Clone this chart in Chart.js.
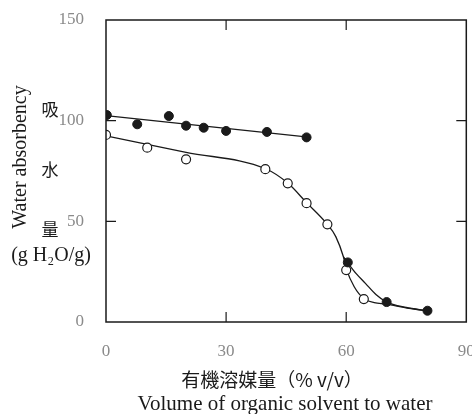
<!DOCTYPE html>
<html>
<head>
<meta charset="utf-8">
<script src="https://cdn.jsdelivr.net/npm/chart.js@4.4.1/dist/chart.umd.min.js"></script>
<style>
  body { margin: 0; background: #fff; }
  #wrap { width: 472px; height: 414px; }
</style>
</head>
<body>
<div id="wrap"><canvas id="absorbChart" width="472" height="414"></canvas></div>
<script>
// measured points
const filledX = [0.2, 7.8, 15.7, 20.0, 24.4, 30.0, 40.2, 50.1, 60.4, 70.1, 80.3];
const filledY = [102.8, 98.2, 102.3, 97.5, 96.5, 94.9, 94.4, 91.7, 29.6, 9.9, 5.6];
const openX = [0, 10.3, 20.0, 39.8, 45.4, 50.1, 55.3, 60.0, 64.4];
const openY = [92.9, 86.6, 80.8, 75.9, 68.9, 59.0, 48.5, 25.8, 11.4];

// hand-drawn fitted curves
const upperLineX = [0, 50];
const upperLineY = [102.5, 92];
const openCurveX = [0, 20, 40, 45.4, 50.1, 55.3, 57.4, 59.3, 60.1, 62, 64.4, 67, 70, 75, 80];
const openCurveY = [92.5, 84.3, 76, 69, 59.3, 48.5, 42.4, 32.4, 26, 17.5, 11.6, 9.6, 8.9, 7, 5.6];
const filledCurveX = [59.3, 60.4, 62.5, 64.8, 67.5, 70, 75, 80];
const filledCurveY = [32.4, 29.4, 24, 19.2, 13.5, 10, 7.2, 5.6];

const xTicks = [0, 30, 60, 90];
const yTicks = [0, 50, 100, 150];

function toXY(xs, ys) {
  return xs.map((x, i) => ({ x: x, y: ys[i] }));
}

const serif = "'Liberation Serif', 'DejaVu Serif', serif";
const cjk = "'Noto Sans CJK JP', 'Noto Sans CJK SC', sans-serif";
const ink = '#1a1a1a';

// frame, inward ticks and axis titles
const framePlugin = {
  id: 'frame',
  afterDraw(chart) {
    const ctx = chart.ctx;
    const a = chart.chartArea;
    const xs = chart.scales.x;
    const ys = chart.scales.y;
    ctx.save();
    ctx.strokeStyle = ink;
    ctx.lineWidth = 1.5;
    ctx.strokeRect(a.left, a.top, a.right - a.left, a.bottom - a.top);

    const len = 10;
    ctx.lineWidth = 1.2;
    ctx.beginPath();
    [30, 60].forEach(v => {
      const px = xs.getPixelForValue(v);
      ctx.moveTo(px, a.bottom); ctx.lineTo(px, a.bottom - len);
      ctx.moveTo(px, a.top); ctx.lineTo(px, a.top + len);
    });
    [50, 100].forEach(v => {
      const py = ys.getPixelForValue(v);
      ctx.moveTo(a.left, py); ctx.lineTo(a.left + len, py);
      ctx.moveTo(a.right, py); ctx.lineTo(a.right - len, py);
    });
    ctx.stroke();

    ctx.fillStyle = ink;
    ctx.textAlign = 'center';
    ctx.textBaseline = 'middle';

    // y title
    ctx.save();
    ctx.translate(21, 157);
    ctx.rotate(-Math.PI / 2);
    ctx.font = '20px ' + serif;
    ctx.fillText('Water absorbency', 0, 0);
    ctx.restore();

    ctx.font = '17px ' + cjk;
    ctx.fillText('吸', 50, 110);
    ctx.fillText('水', 50, 170);
    ctx.fillText('量', 50, 230);
    ctx.font = '20px ' + serif;
    ctx.fillText('(g H\u2082O/g)', 51, 256);

    // x title
    ctx.font = '19px ' + cjk;
    ctx.fillText('有機溶媒量（% v/v）', 272, 380);
    ctx.font = '21px ' + serif;
    ctx.fillText('Volume of organic solvent to water', 285, 404);
    ctx.restore();
  }
};

const ctx = document.getElementById('absorbChart').getContext('2d');

new Chart(ctx, {
  type: 'scatter',
  data: {
    datasets: [
      {
        label: 'filled',
        data: toXY(filledX, filledY),
        pointRadius: 4.5,
        pointBackgroundColor: ink,
        pointBorderColor: ink,
        pointBorderWidth: 1,
        order: 1
      },
      {
        label: 'open',
        data: toXY(openX, openY),
        pointRadius: 4.5,
        pointBackgroundColor: '#fff',
        pointBorderColor: ink,
        pointBorderWidth: 1.2,
        order: 1
      },
      {
        label: 'upper line',
        data: toXY(upperLineX, upperLineY),
        showLine: true,
        pointRadius: 0,
        borderColor: ink,
        borderWidth: 1.3,
        order: 2
      },
      {
        label: 'open curve',
        data: toXY(openCurveX, openCurveY),
        showLine: true,
        pointRadius: 0,
        borderColor: ink,
        borderWidth: 1.3,
        cubicInterpolationMode: 'monotone',
        order: 2
      },
      {
        label: 'filled curve',
        data: toXY(filledCurveX, filledCurveY),
        showLine: true,
        pointRadius: 0,
        borderColor: ink,
        borderWidth: 1.3,
        cubicInterpolationMode: 'monotone',
        order: 2
      }
    ]
  },
  options: {
    responsive: false,
    animation: false,
    layout: { padding: { top: 20, right: 4, left: 0, bottom: 0 } },
    plugins: {
      legend: { display: false },
      tooltip: { enabled: false }
    },
    scales: {
      x: {
        type: 'linear',
        min: 0,
        max: 90,
        grid: { display: false },
        border: { display: false },
        afterBuildTicks: s => { s.ticks = xTicks.map(v => ({ value: v })); },
        afterFit: s => { s.height = 92; s.paddingLeft = 0; s.paddingRight = 0; },
        ticks: {
          color: '#8a8a8a',
          padding: 11,
          maxRotation: 0,
          font: { family: serif, size: 17 }
        }
      },
      y: {
        type: 'linear',
        min: 0,
        max: 150,
        grid: { display: false },
        border: { display: false },
        afterBuildTicks: s => { s.ticks = yTicks.map(v => ({ value: v })); },
        afterFit: s => { s.width = 106; s.paddingTop = 0; s.paddingBottom = 0; },
        ticks: {
          color: '#8a8a8a',
          padding: 14,
          font: { family: serif, size: 17 }
        }
      }
    }
  },
  plugins: [framePlugin]
});
</script>
</body>
</html>
